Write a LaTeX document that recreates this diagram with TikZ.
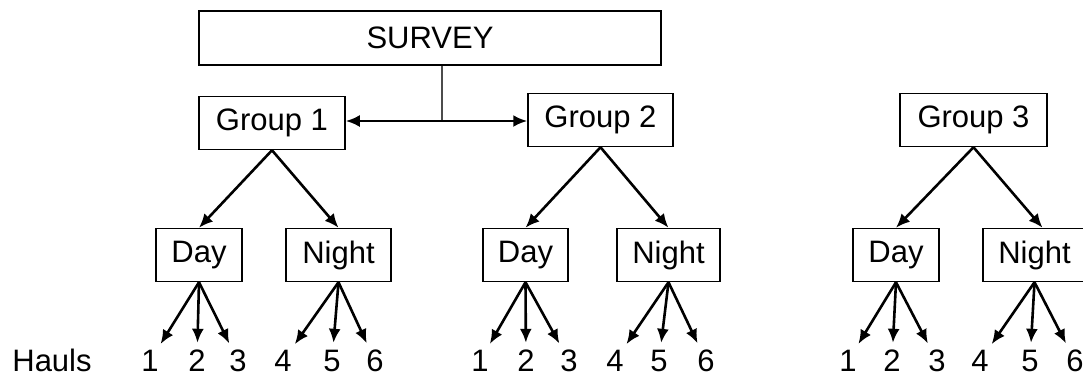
\documentclass[tikz,border=0pt]{standalone}
\usepackage{fontspec}
\setmainfont{Liberation Sans}
\usetikzlibrary{positioning,arrows.meta}
\tikzset{box/.style={draw, line width=0.75pt, minimum height=26.5pt, inner sep=0pt, align=center},
% boxes for survey, groups and day/night
line/.style={->, line width=1.3pt}, % arrows of the tree
num/.style={inner sep=0pt},  % haul numbers
>={Latex[length=7pt,width=6pt]}
}
\begin{document}
\begin{tikzpicture}[x=0.5pt,y=-0.5pt,font=\fontsize{15.5}{18}\selectfont]
    \useasboundingbox (0,0) rectangle (1083,377);
    \node[box, minimum width=231pt, minimum height=27pt] (survey) at (430,38) {SURVEY};
    \node[box, minimum width=73pt] (g1) at (272,123) {Group 1};
    \node[box, minimum width=72.5pt] (g2) at (600.5,120) {Group 2};
    \node[box, minimum width=73.5pt] (g3) at (973.5,120) {Group 3};
    % day and night boxes
    \node[box, minimum width=43pt] (d1) at (199,255) {Day};
    \node[box, minimum width=52.5pt] (n1) at (338.5,255) {Night};
    \node[box, minimum width=42.5pt] (d2) at (525.5,255) {Day};
    \node[box, minimum width=51.5pt] (n2) at (668.5,255) {Night};
    \node[box, minimum width=43pt] (d3) at (896,255) {Day};
    \node[box, minimum width=51.5pt] (n3) at (1034.5,255) {Night};
    \node[num] (hauls) at (52,360) {Hauls};
    % survey splits to groups 1 and 2
    \coordinate (split) at (442,121);
    \draw[line width=0.6pt, black!70] (survey.south -| split) -- (split);
    \draw[<->, line width=1.3pt] (g1.east |- split) -- (g2.west |- split);
    \draw[line] (g1.south) -- (d1.north);
    \draw[line] (g1.south) -- (n1.north);
    \draw[line] (g2.south) -- (d2.north);
    \draw[line] (g2.south) -- (n2.north);
    \draw[line] (g3.south) -- (d3.north);
    \draw[line] (g3.south) -- ([xshift=4pt]n3.north);
    % hauls
    \foreach \src/\lab/\x [count=\i] in {d1/1/150,d1/2/197,d1/3/238,n1/4/283,n1/5/332,n1/6/375,
      d2/1/480,d2/2/526,d2/3/569,n2/4/615,n2/5/659,n2/6/706,
      d3/1/848,d3/2/892,d3/3/937,n3/4/980,n3/5/1030,n3/6/1075}{
      \node[num] (h\i) at (\x,361) {\lab};
      \draw[line, shorten >=3.5pt] (\src.south) -- (h\i);
    }
  \end{tikzpicture}
\end{document}
